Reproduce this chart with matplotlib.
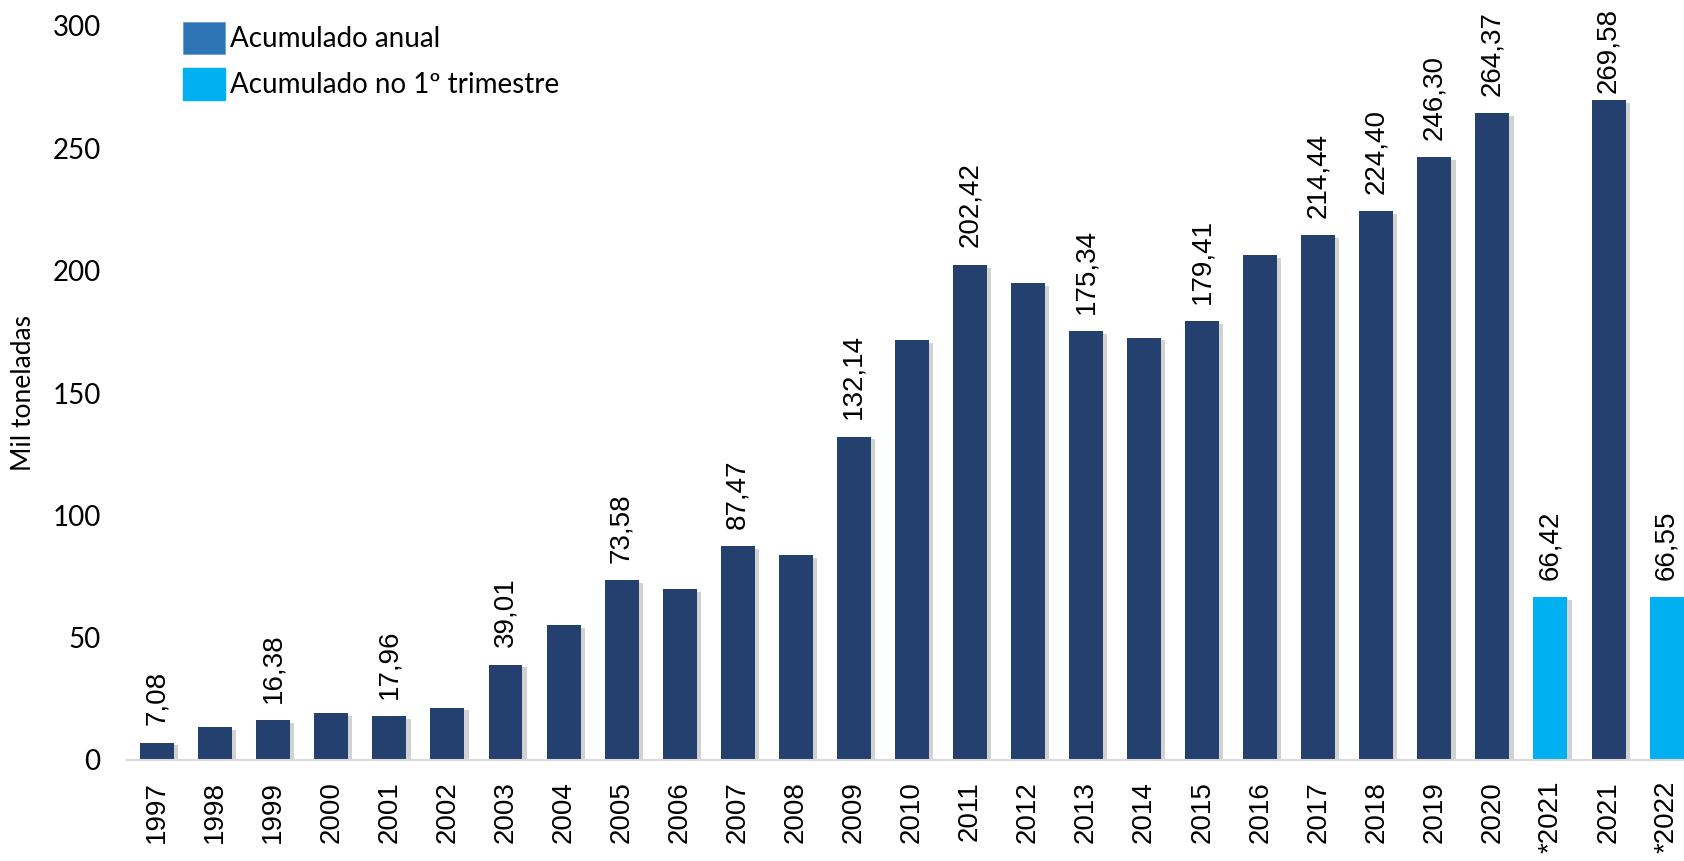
import matplotlib.pyplot as plt
import matplotlib.patheffects as pe
from matplotlib.patches import Patch
import numpy as np

# data (unlabelled bars are estimates)
categories = ['1997', '1998', '1999', '2000', '2001', '2002', '2003', '2004', '2005',
              '2006', '2007', '2008', '2009', '2010', '2011', '2012', '2013', '2014',
              '2015', '2016', '2017', '2018', '2019', '2020', '*2021', '2021', '*2022']
values = [7.08, 13.3, 16.38, 19.3, 17.96, 21.4, 39.01, 55.2, 73.58,
          70.0, 87.47, 83.8, 132.14, 171.7, 202.42, 194.9, 175.34, 172.6,
          179.41, 206.3, 214.44, 224.40, 246.30, 264.37, 66.42, 269.58, 66.55]
bar_labels = ['7,08', '', '16,38', '', '17,96', '', '39,01', '', '73,58',
              '', '87,47', '', '132,14', '', '202,42', '', '175,34', '',
              '179,41', '', '214,44', '224,40', '246,30', '264,37', '66,42', '269,58', '66,55']
quarter = ['*2021', '*2022']   # first-quarter bars
legend_labels = ['Acumulado anual', 'Acumulado no 1º trimestre']

dark = '#24406F'
light = '#00B0F0'
legend_dark = '#2E75B6'

fig = plt.figure(figsize=(16.84, 8.61), dpi=100)
ax = fig.add_axes([127/1684, 101/861, 1 - 127/1684, 734/861])

x = np.arange(len(categories))
colors = [light if c in quarter else dark for c in categories]
bars = ax.bar(x, values, width=0.585, color=colors, zorder=2)
for b in bars:
    b.set_path_effects([pe.SimplePatchShadow(offset=(3, -2), shadow_rgbFace='#808080', alpha=0.35),
                        pe.Normal()])

ax.set_xlim(-0.52, 26.3)
ax.set_ylim(0, 300)

texts = []
for xi, v, lab in zip(x, values, bar_labels):
    if lab:
        t = ax.annotate(lab, (xi, v), xytext=(0, 12.5), textcoords='offset points',
                        rotation=90, ha='center', va='bottom', fontsize=20,
                        family='Liberation Sans', color='black')
        texts.append(t)

# keep labels inside the picture, like the original does for the tallest bar
fig.canvas.draw()
r = fig.canvas.get_renderer()
for t in texts:
    bb = t.get_window_extent(r)
    over = bb.y1 - (861 - 8)
    if over > 0:
        ox, oy = t.xyann
        t.xyann = (ox, oy - over * 72 / 100)

ax.set_yticks([0, 50, 100, 150, 200, 250, 300])
ax.set_xticks(x)
ax.set_xticklabels(categories, rotation=90, fontsize=20, family='Liberation Sans')
for t in ax.get_yticklabels():
    t.set_family('Lato')
    t.set_fontsize(20)
ax.tick_params(axis='both', length=0)
ax.tick_params(axis='y', pad=19)
ax.tick_params(axis='x', pad=15)

for s in ['top', 'right', 'left']:
    ax.spines[s].set_visible(False)
ax.spines['bottom'].set_color('#D9D9D9')
ax.spines['bottom'].set_linewidth(1.5)

ax.set_ylabel('Mil toneladas', family='Lato', fontsize=19, labelpad=12)

handles = [Patch(facecolor=legend_dark, edgecolor='#5B9BD5', linewidth=0.5),
           Patch(facecolor=light, edgecolor=light)]
fig.legend(handles, legend_labels, loc='upper left', bbox_to_anchor=(183/1684, 1 - 22/861),
           frameon=False, prop={'family': 'Lato', 'size': 20}, borderpad=0, borderaxespad=0,
           handlelength=1.5, handleheight=1.4, handletextpad=0.2, labelspacing=0.5)

fig.savefig('out.png', dpi=100)
